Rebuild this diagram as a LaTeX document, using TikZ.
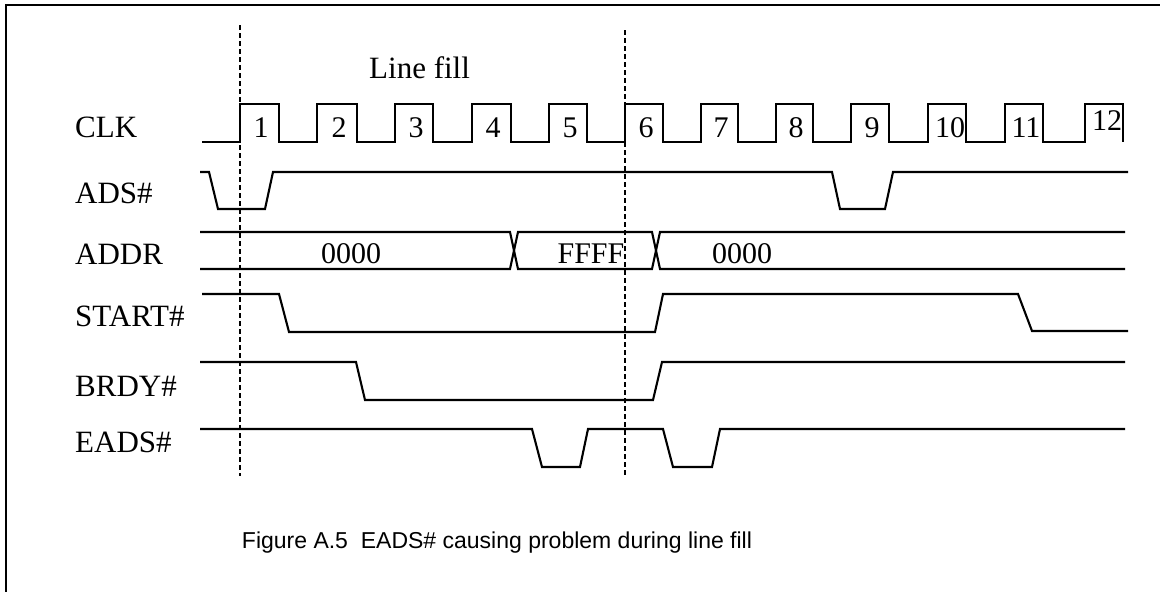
\documentclass[tikz,border=0pt]{standalone}
\usepackage{fontspec}
\setmainfont{Liberation Serif}
\newfontfamily\capfont{Liberation Sans}
\begin{document}
\begin{tikzpicture}[x=1pt,y=-1pt,
  wave/.style={line width=2.1pt, line join=miter, line cap=butt},
  guide/.style={dash pattern=on 5pt off 3pt, line width=1.5pt},
  frameline/.style={line width=2.2pt},
  lbl/.style={font=\fontsize{31}{36}\selectfont, anchor=base west, inner sep=0pt},
  num/.style={font=\fontsize{30}{34}\selectfont, anchor=base, inner sep=0pt},
  val/.style={font=\fontsize{30}{34}\selectfont, anchor=base, inner sep=0pt},
  captext/.style={font=\capfont\fontsize{23}{27}\selectfont, anchor=base, inner sep=0pt}]
\useasboundingbox (0,0) rectangle (1160,592);
% frame (top and left only)
\draw[frameline] (6,592) -- (6,5) -- (1160,5);
% guide lines
\coordinate (g1t) at (240,25); \coordinate (g1b) at (240,476);
\coordinate (g2t) at (625,30); \coordinate (g2b) at (625,476);
\draw[guide] (g1t) -- (g1b);
\draw[guide] (g2t) -- (g2b);
% labels
\node[lbl] (linefill) at (369,78) {Line fill};
\node[lbl] (lclk) at (75,137) {CLK};
\node[lbl] (lads) at (75,203) {ADS\#};
\node[lbl] (laddr) at (75,264) {ADDR};
\node[lbl] (lstart) at (75,326) {START\#};
\node[lbl] (lbrdy) at (75,396) {BRDY\#};
\node[lbl] (leads) at (75,452) {EADS\#};
% CLK
\draw[wave] (202,142) -- (240,142) -- (240,104) -- (279,104) -- (279,142)
 -- (317,142) -- (317,104) -- (357,104) -- (357,142)
 -- (395,142) -- (395,104) -- (433,104) -- (433,142)
 -- (472,142) -- (472,104) -- (511,104) -- (511,142)
 -- (549,142) -- (549,104) -- (587,104) -- (587,142)
 -- (625,142) -- (625,104) -- (663,104) -- (663,142)
 -- (701,142) -- (701,104) -- (738,104) -- (738,142)
 -- (776,142) -- (776,104) -- (813,104) -- (813,142)
 -- (851,142) -- (851,104) -- (889,104) -- (889,142)
 -- (928,142) -- (928,104) -- (966,104) -- (966,142)
 -- (1005,142) -- (1005,104) -- (1043,104) -- (1043,142)
 -- (1085,142) -- (1085,104) -- (1123,104) -- (1123,142);
\node[num] (c1) at (261,137) {1};
\node[num] (c2) at (339,137) {2};
\node[num] (c3) at (416,137) {3};
\node[num] (c4) at (493,137) {4};
\node[num] (c5) at (570,137) {5};
\node[num] (c6) at (646,137) {6};
\node[num] (c7) at (721,137) {7};
\node[num] (c8) at (796,137) {8};
\node[num] (c9) at (872,137) {9};
\node[num] (c10) at (950,137) {10};
\node[num] (c11) at (1026,137) {11};
\node[num] (c12) at (1107,130) {12};
% ADS#
\draw[wave] (200,172) -- (209,172) -- (218,209) -- (265,209) -- (273,172)
 -- (832,172) -- (840,209) -- (885,209) -- (893,172) -- (1128,172);
% ADDR
\draw[wave] (200,232) -- (510,232) -- (518,269) -- (652,269) -- (660,232) -- (1125,232);
\draw[wave] (200,269) -- (510,269) -- (518,232) -- (652,232) -- (660,269) -- (1125,269);
\node[val] (a1) at (351,263) {0000};
\node[val] (a2) at (591,263) {FFFF};
\node[val] (a3) at (742,263) {0000};
% START#
\draw[wave] (202,294) -- (279,294) -- (289,332) -- (655,332) -- (663,294)
 -- (1018,294) -- (1032,331) -- (1128,331);
% BRDY#
\draw[wave] (200,362) -- (356,362) -- (365,400) -- (653,400) -- (662,362) -- (1125,362);
% EADS#
\draw[wave] (200,429) -- (532,429) -- (542,467) -- (580,467) -- (588,429)
 -- (663,429) -- (673,467) -- (712,467) -- (720,429) -- (1125,429);
% caption
\node[captext] (caption) at (497,548) {Figure A.5\ \ EADS\# causing problem during line fill};
\end{tikzpicture}
\end{document}
